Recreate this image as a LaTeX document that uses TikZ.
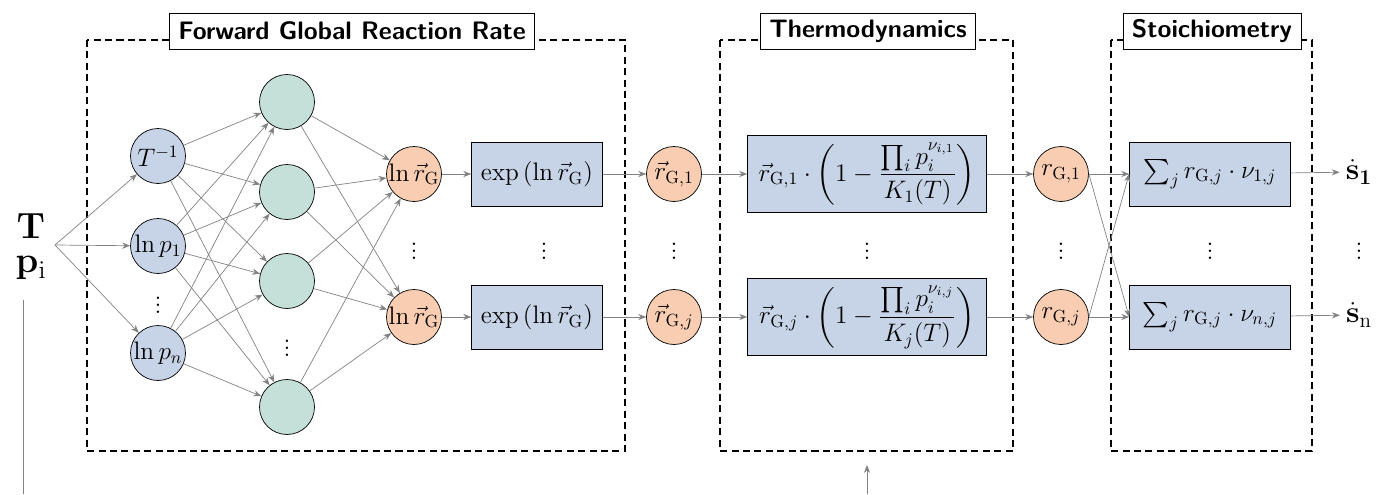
\documentclass[tikz,border=0pt]{standalone}
\usepackage{amsmath,amssymb}
\usepackage{tikz}
\usetikzlibrary{calc, arrows.meta, fit}
\definecolor{inblue}{RGB}{199,212,231}
\definecolor{hidteal}{RGB}{197,223,217}
\definecolor{outorange}{RGB}{248,205,178}
\definecolor{conngray}{RGB}{130,130,130}

\begin{document}
\begin{tikzpicture}[x=0.02cm, y=-0.02cm, font=\Large,
		neuron/.style={circle, draw, thin, minimum size=1.1cm, inner sep=0pt},
		inneuron/.style={neuron, fill=inblue},
		hidneuron/.style={neuron, fill=hidteal},
		outneuron/.style={neuron, fill=outorange},
		opbox/.style={draw, thin, fill=inblue, minimum height=1.28cm, inner sep=2pt},
		conn/.style={draw=conngray, thin, -{Stealth[length=4.5pt, width=3.5pt]}},
		group/.style={draw, line width=1.1pt, dash pattern=on 4pt off 2.5pt},
		grouptitle/.style={draw, thin, fill=white, font=\Large\sffamily\bfseries, minimum height=0.72cm, inner xsep=5pt}]
	\useasboundingbox (0,0) rectangle (1379,494);

	% dashed groups
	\draw[group] (87,40) rectangle (625,451);
	\draw[group] (720,40) rectangle (1013,451);
	\draw[group] (1111,40) rectangle (1312,451);
	\node[grouptitle, minimum width=7.14cm] (tFGRR) at (352,31) {Forward Global Reaction Rate};
	\node[grouptitle, minimum width=4.28cm] (tThermo) at (868,31) {Thermodynamics};
	\node[grouptitle, minimum width=3.5cm] (tStoich) at (1212,31) {Stoichiometry};

	% inputs
	\node[font=\huge] (lblT) at (31,226) {$\mathbf{T}$};
	\node[font=\huge] (lblp) at (31,268) {$\mathbf{p}_\mathrm{i}$};
	\coordinate (fan) at (55,245);
	\coordinate (downTop) at (23,300);
	\coordinate (downEnd) at (23,494);
	\draw[conngray, thin] (downTop) -- (downEnd);

	% network
	\node[inneuron] (inT) at (158,156) {$T^{-1}$};
	\node[inneuron] (inp1) at (158,246) {$\ln p_1$};
	\node[inneuron] (inpn) at (158,353) {$\ln p_n$};
	\node (dIn) at (158,300) {$\vdots$};
	\node[hidneuron] (h1) at (287,102) {};
	\node[hidneuron] (h2) at (287,192) {};
	\node[hidneuron] (h3) at (287,281) {};
	\node[hidneuron] (h4) at (287,407) {};
	\node (dHid) at (287,343) {$\vdots$};
	\node[outneuron] (lr1) at (414,174) {$\ln\vec{r}_\mathrm{G}$};
	\node[outneuron] (lr2) at (414,317) {$\ln\vec{r}_\mathrm{G}$};
	\node (dLr) at (414,246) {$\vdots$};

	\foreach \i in {inT,inp1,inpn}
		\draw[conn] (fan) -- (\i);
	\foreach \i in {inT,inp1,inpn}
		\foreach \h in {h1,h2,h3,h4}
			\draw[conn] (\i) -- (\h);
	\foreach \h in {h1,h2,h3,h4}
		\foreach \o in {lr1,lr2}
			\draw[conn] (\h) -- (\o);

	% exponent
	\node[opbox, minimum width=2.62cm] (ex1) at (537,174) {$\exp\left(\ln\vec{r}_\mathrm{G}\right)$};
	\node[opbox, minimum width=2.62cm] (ex2) at (537,317) {$\exp\left(\ln\vec{r}_\mathrm{G}\right)$};
	\node (dEx) at (544,246) {$\vdots$};
	\node[outneuron] (rf1) at (674,174) {$\vec{r}_{\mathrm{G},1}$};
	\node[outneuron] (rf2) at (674,317) {$\vec{r}_{\mathrm{G},j}$};
	\node (dRf) at (674,246) {$\vdots$};

	% thermodynamics
	\node[opbox, minimum width=4.78cm, minimum height=1.54cm] (th1) at (867,174)
		{$\vec{r}_{\mathrm{G},1}\cdot\left(1-\dfrac{\prod_i p_i^{\nu_{i,1}}}{K_1(T)}\right)$};
	\node[opbox, minimum width=4.78cm, minimum height=1.54cm] (th2) at (867,317)
		{$\vec{r}_{\mathrm{G},j}\cdot\left(1-\dfrac{\prod_i p_i^{\nu_{i,j}}}{K_j(T)}\right)$};
	\node (dTh) at (867,246) {$\vdots$};
	\node[outneuron] (rg1) at (1061,174) {$r_{\mathrm{G},1}$};
	\node[outneuron] (rg2) at (1061,317) {$r_{\mathrm{G},j}$};
	\node (dRg) at (1061,246) {$\vdots$};
	\coordinate (thIn) at (867,494);
	\coordinate (thInEnd) at (867,465);
	\draw[conn] (thIn) -- (thInEnd);

	% stoichiometry
	\node[opbox, minimum width=3.22cm] (st1) at (1210,174) {$\sum_j r_{\mathrm{G},j}\cdot\nu_{1,j}$};
	\node[opbox, minimum width=3.22cm] (st2) at (1210,317) {$\sum_j r_{\mathrm{G},j}\cdot\nu_{n,j}$};
	\node (dSt) at (1210,246) {$\vdots$};
	\node[font=\LARGE] (s1) at (1359,172) {$\dot{\mathbf{s}}_{\mathbf{1}}$};
	\node[font=\LARGE] (sn) at (1359,315) {$\dot{\mathbf{s}}_\mathrm{n}$};
	\node (dS) at (1359,246) {$\vdots$};

	\foreach \a/\b in {lr1/ex1, lr2/ex2, ex1/rf1, ex2/rf2, rf1/th1, rf2/th2, th1/rg1, th2/rg2, st1/s1, st2/sn}
		\draw[conn] (\a) -- (\b);
	\foreach \r in {rg1,rg2}
		\foreach \s in {st1,st2}
			\draw[conn] (\r.east) -- (\s.west);
\end{tikzpicture}
\end{document}
